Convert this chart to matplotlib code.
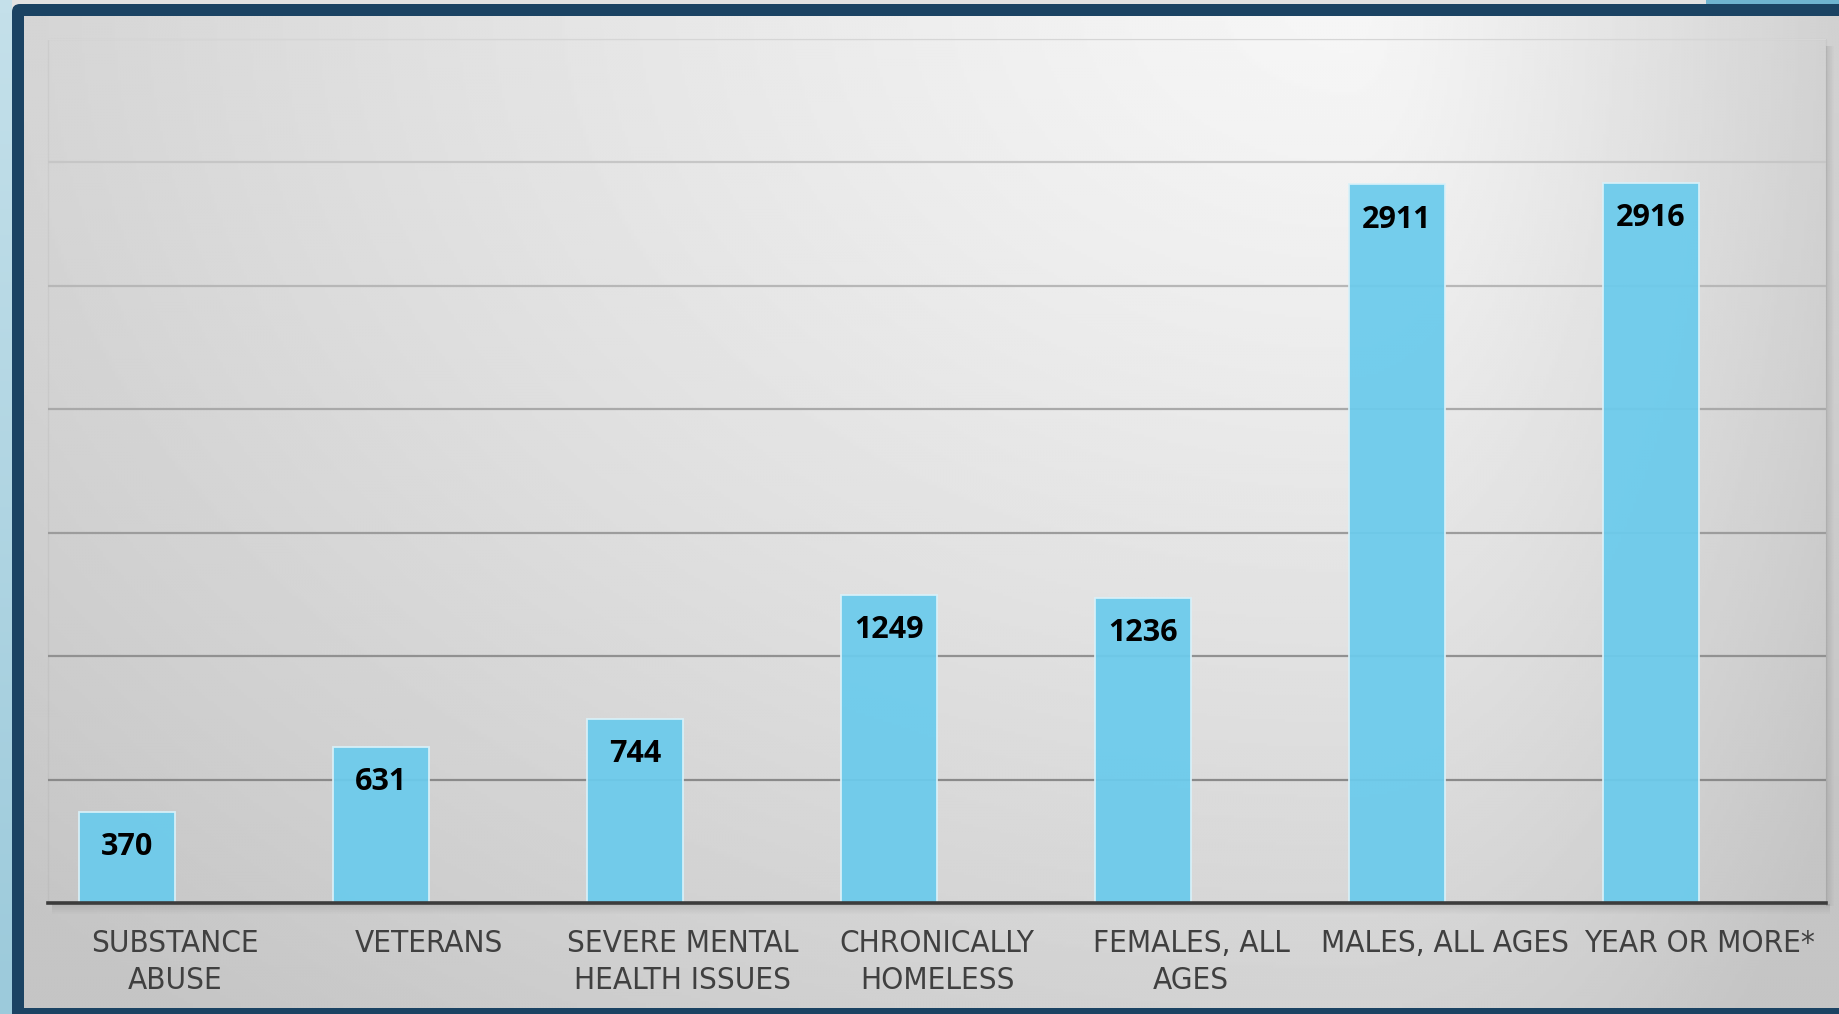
import numpy as np
import matplotlib
matplotlib.use("Agg")
import matplotlib.pyplot as plt
from matplotlib.patches import Rectangle, FancyBboxPatch
from matplotlib.colors import LinearSegmentedColormap
from matplotlib import font_manager as fm

categories = ["SUBSTANCE\nABUSE", "VETERANS", "SEVERE MENTAL\nHEALTH ISSUES",
              "CHRONICALLY\nHOMELESS", "FEMALES, ALL\nAGES", "MALES, ALL AGES",
              "YEAR OR MORE*"]
values = [370, 631, 744, 1249, 1236, 2911, 2916]
grid_levels = [500, 1000, 1500, 2000, 2500, 3000, 3500]

# choose a condensed font for the category labels if one exists
has_dv_cond = any(f.name == "DejaVu Sans" and "condensed" in str(f.stretch).lower()
                  for f in fm.fontManager.ttflist)
has_narrow = any(f.name == "Liberation Sans Narrow" for f in fm.fontManager.ttflist)
if has_narrow:
    lab_font = dict(family=["Liberation Sans Narrow"], fontsize=22.5)
elif has_dv_cond:
    lab_font = dict(family=["DejaVu Sans"], fontstretch="condensed", fontsize=22.5)
else:
    lab_font = dict(family=["Liberation Sans", "DejaVu Sans"], fontsize=20.5)

W, H = 1839, 1014
fig = plt.figure(figsize=(W / 100, H / 100), dpi=100)
fig.patch.set_facecolor("#e2e2e2")

# ---------- background decoration (pixel coordinates) ----------
bg = fig.add_axes([0, 0, 1, 1])
bg.axis("off")

stripe = np.linspace(0.0, 1.0, 64)[:, None] * np.ones((1, 4))
cm_stripe = LinearSegmentedColormap.from_list("s", ["#c4e0ea", "#9ccadb"])
bg.imshow(stripe, cmap=cm_stripe, extent=(0, 12, H, 0), aspect="auto", zorder=0)
bg.add_patch(Rectangle((1706, 0), W - 1706, 6, fc="#6fb3cf", ec="none", zorder=0))

bg.add_patch(FancyBboxPatch((12, 4), W + 40, H + 40,
                            boxstyle="round,pad=0,rounding_size=8",
                            fc="#1b4363", ec="none", zorder=1))

ys, xs = np.mgrid[16:1008:3, 24:W:3]
cx, cy = 1350.0, 0.0
rx = np.where(xs < cx, 1800.0, 600.0)
ry = 1300.0
r = np.sqrt(((xs - cx) / rx) ** 2 + ((ys - cy) / ry) ** 2)
val = np.clip(0.965 - 0.19 * r ** 1.2, 0.77, 1.0)
bg.imshow(val, cmap="gray", vmin=0, vmax=1, extent=(24, W, 1008, 16),
          aspect="auto", interpolation="bilinear", zorder=2)

for k in range(8):
    a = 0.10 * (1 - k / 8)
    bg.add_patch(Rectangle((1826 + k, 46), 1, 860, fc="black", alpha=a, ec="none", zorder=3))
for k in range(10):
    a = 0.10 * (1 - k / 10)
    bg.add_patch(Rectangle((52, 904 + k), 1778, 1, fc="black", alpha=a, ec="none", zorder=3))
bg.add_patch(Rectangle((48, 39), 1778, 864, fc="none", ec="#000000", alpha=0.04, lw=1, zorder=3))
bg.set_xlim(0, W)
bg.set_ylim(H, 0)

# ---------- main chart ----------
ax = fig.add_axes([48 / W, (H - 903) / H, (1826 - 48) / W, (903 - 39) / H])
ax.patch.set_alpha(0)
ax.set_xlim(-0.5, len(values) - 0.5)
ax.set_ylim(0, 3500)

for lvl in grid_levels:
    t = (lvl - 500) / 3000.0
    g = 0.54 + 0.30 * t ** 1.3
    ax.axhline(lvl, color=(g, g, g), lw=1.6, zorder=1)

x = np.arange(len(values))
bw = 0.379
ax.bar(x, values, width=-bw, align="edge", color="#6ccbec", alpha=0.94,
       edgecolor="#d9f1f9", linewidth=1.3, zorder=2)

ax.axhline(0, color="#3c3c3c", lw=2.6, zorder=3, clip_on=False)

for xi, v in zip(x, values):
    ax.annotate(str(v), (xi - bw / 2, v), xytext=(0, -14.5), textcoords="offset points",
                ha="center", va="top", fontsize=22, fontweight="bold",
                family=["Open Sans", "DejaVu Sans"], color="black", zorder=4)

ax.set_xticks(x)
ax.set_xticklabels(categories, color="#404040", linespacing=1.32, **lab_font)
ax.set_yticks([])
ax.tick_params(axis="x", length=0, pad=19)
for s in ax.spines.values():
    s.set_visible(False)

fig.savefig("out.png", dpi=100, facecolor=fig.get_facecolor())
